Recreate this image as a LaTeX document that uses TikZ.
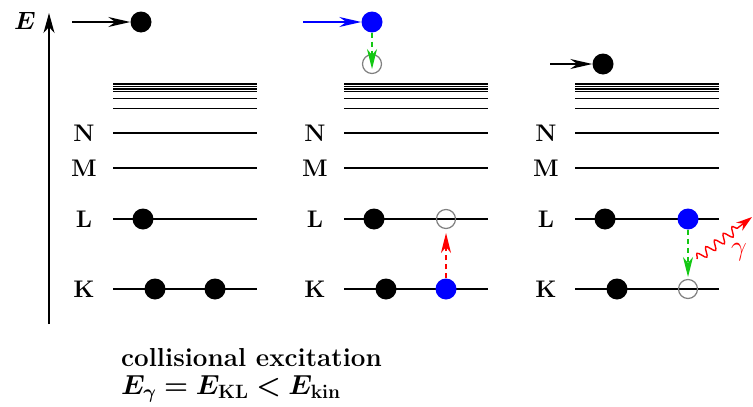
\RequirePackage{fix-cm}
\documentclass[tikz,border=0pt]{standalone}
\usepackage{bm}
\usetikzlibrary{arrows.meta,decorations.pathmorphing}
\definecolor{xgreen}{RGB}{20,200,20}
\definecolor{holegray}{RGB}{128,128,128}
\tikzset{
  shell/.style={line width=1.5pt},
  electron/.style={circle,fill=black,minimum size=21pt,inner sep=0pt},
  bluee/.style={electron,fill=blue},
  hole/.style={circle,draw=holegray,line width=1.2pt,minimum size=19pt,inner sep=0pt},
  lbl/.style={font=\fontsize{24}{28}\selectfont\bfseries},
  captxt/.style={font=\fontsize{26}{30}\selectfont\bfseries,anchor=base west,inner sep=0pt},
  kick/.style={line width=1.5pt,-{Stealth[length=22pt,width=10pt,inset=7pt]}},
  trans/.style={line width=1.5pt,dash pattern=on 5pt off 4pt,-{Stealth[length=20pt,width=10pt,inset=6pt]}},
}
\begin{document}
\begin{tikzpicture}[x=1pt,y=-1pt]
\useasboundingbox (0,0) rectangle (753,407);

% energy axis
\coordinate (ax0) at (49,324);
\coordinate (ax1) at (49,13);
\draw[line width=1.5pt,-{Stealth[length=20pt,width=11pt,inset=6pt]}] (ax0) -- (ax1);
\node[font=\fontsize{25}{29}\selectfont] (Elab) at (25,21) {$\bm{E}$};

% level schemes of the three panels
\foreach \px/\lx in {113/84,344/315,575/546}{
  \foreach \yy in {84,86.4,88.8,91.3,98.3,108.3,133,168,219,289}
    \draw[shell] (\px,\yy) -- ++(144,0);
  \node[lbl] at (\lx,133) {N};
  \node[lbl] at (\lx,168) {M};
  \node[lbl] at (\lx,219) {L};
  \node[lbl] at (\lx,289) {K};
}

% panel 1: incoming electron, ground state
\coordinate (a1) at (72,22);
\node[electron] (e1) at (141,22) {};
\draw[kick] (a1) -- (e1);
\node[electron] (L1a) at (143,219) {};
\node[electron] (K1a) at (155,289) {};
\node[electron] (K1b) at (215,289) {};

% panel 2: collision lifts a K electron into the L shell
\coordinate (a2) at (303,22);
\node[bluee] (e2) at (372,22) {};
\draw[kick,blue] (a2) -- (e2);
\node[hole] (h2) at (372,64) {};
\coordinate (g2) at (372,69);
\draw[trans,xgreen] (e2) -- (g2);
\node[electron] (L2a) at (374,219) {};
\node[hole] (L2h) at (446,219) {};
\node[electron] (K2a) at (386,289) {};
\node[bluee] (K2b) at (446,289) {};
\coordinate (r2) at (446,233);
\draw[trans,red] (K2b) -- (r2);

% panel 3: L electron falls back, photon emitted
\coordinate (a3) at (550,64);
\node[electron] (e3) at (603,64) {};
\draw[kick] (a3) -- (e3);
\node[electron] (L3a) at (605,219) {};
\node[bluee] (L3b) at (688,219) {};
\node[electron] (K3a) at (617,289) {};
\node[hole] (K3h) at (688,289) {};
\coordinate (g3) at (688,277);
\draw[trans,xgreen] (L3b) -- (g3);
\coordinate (w0) at (697,259);
\coordinate (w1) at (752,217);
\draw[red,line width=1.4pt,decorate,
  decoration={snake,amplitude=4.5pt,segment length=11pt,post length=15pt},
  -{Stealth[length=16pt,width=10pt,inset=5pt]}] (w0) -- (w1);
\node[red,font=\fontsize{28}{32}\selectfont] (gam) at (739,252) {$\gamma$};

% caption
\node[captxt] (cap1) at (121,366) {collisional excitation};
\node[captxt,font=\fontsize{27.5}{31}\selectfont\bfseries] (cap2) at (121,394)
  {$\bm{E_\gamma = E}_{\mathbf{KL}} \bm{<} \bm{E}_{\mathbf{kin}}$};
\end{tikzpicture}
\end{document}
